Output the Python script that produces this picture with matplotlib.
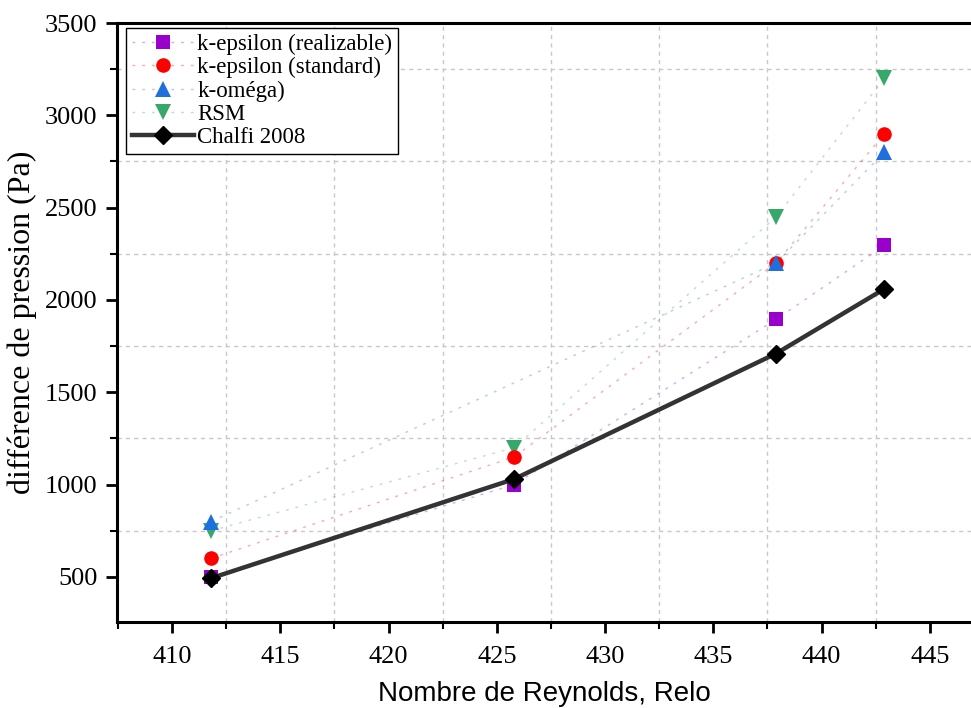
import matplotlib
matplotlib.use("Agg")
import matplotlib.pyplot as plt
from matplotlib.ticker import MultipleLocator
from matplotlib.colors import to_rgba
import numpy as np

# data
re_sim = [411.8, 425.8, 437.9, 442.9]
re_omega = [411.8, 437.9, 442.9]
dp_realizable = [500, 1000, 1895, 2295]
dp_standard = [600, 1150, 2200, 2900]
dp_omega = [800, 2200, 2800]
dp_rsm = [750, 1200, 2450, 3200]
re_chalfi = [411.8, 425.8, 437.9, 442.9]
dp_chalfi = [493, 1030, 1710, 2060]

serif = ["Liberation Serif", "DejaVu Serif"]
sans = ["Liberation Sans", "DejaVu Sans"]

fig = plt.figure(figsize=(9.71, 7.08), dpi=100)
ax = fig.add_axes([0.1205, 0.1215, 0.8795, 0.846])


def sim(x, y, col, mk, ms, lab, z):
    # faint dashed connector, solid marker
    ax.plot(x, y, color=to_rgba(col, 0.35), linestyle=(0, (2, 5)), linewidth=1.0,
            marker=mk, markersize=ms, markerfacecolor=col, markeredgewidth=0,
            label=lab, zorder=z)


sim(re_sim, dp_realizable, "#9900CC", "s", 10, "k-epsilon (realizable)", 4)
sim(re_sim, dp_standard, "#FF0000", "o", 10.5, "k-epsilon (standard)", 5)
sim(re_omega, dp_omega, "#1F6FDF", "^", 12, "k-oméga)", 6)
sim(re_sim, dp_rsm, "#36A96A", "v", 12, "RSM", 3)
ax.plot(re_chalfi, dp_chalfi, color="#333333", linewidth=3.2, marker="D",
        markersize=9.5, markerfacecolor="black", markeredgecolor="black",
        label="Chalfi 2008", zorder=7)

ax.set_xlim(407.46, 446.9)
ax.set_ylim(256, 3500)

ax.xaxis.set_major_locator(MultipleLocator(5))
ax.xaxis.set_minor_locator(MultipleLocator(2.5))
ax.yaxis.set_major_locator(MultipleLocator(500))
ax.yaxis.set_minor_locator(MultipleLocator(250))

# grid sits on the minor ticks that fall between the labelled ones
for xv in np.arange(412.5, 446, 5):
    ax.axvline(xv, color="#c8c8c8", linestyle=(0, (3, 3)), linewidth=1, zorder=1)
for yv in np.arange(750, 3500, 500):
    ax.axhline(yv, color="#c8c8c8", linestyle=(0, (3, 3)), linewidth=1, zorder=1)

for s in ["left", "bottom", "top"]:
    ax.spines[s].set_linewidth(2.2)
ax.spines["right"].set_visible(False)

ax.tick_params(which="major", direction="out", length=8, width=2, top=False, right=False)
ax.tick_params(which="minor", direction="out", length=5, width=1.5, top=False, right=False)
for lab in ax.get_xticklabels() + ax.get_yticklabels():
    lab.set_fontfamily(serif)
    lab.set_fontsize(19)
ax.tick_params(axis="x", pad=9)
ax.tick_params(axis="y", pad=6)

ax.set_xlabel("Nombre de Reynolds, Relo", family=sans, fontsize=20, labelpad=9.5)
ax.set_ylabel("différence de pression (Pa)", family=serif, fontsize=23, labelpad=6)

leg = ax.legend(loc="upper left", bbox_to_anchor=(0.011, 0.992), prop={"family": serif, "size": 16.5},
                frameon=True, fancybox=False, edgecolor="black", framealpha=1,
                handlelength=2.7, handletextpad=0.15, labelspacing=0.1,
                borderpad=0.25, borderaxespad=0)
leg.get_frame().set_linewidth(1.0)
leg.set_zorder(10)

fig.savefig("out.png", dpi=100)
